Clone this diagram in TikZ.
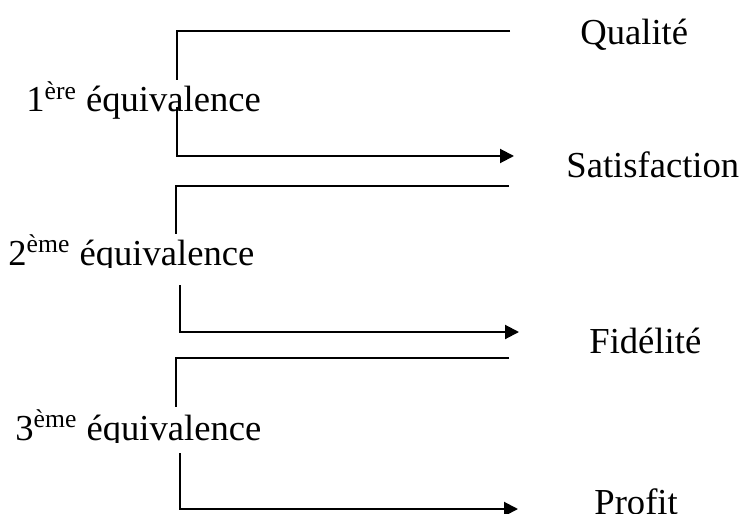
\documentclass[tikz,border=0pt]{standalone}
\usepackage{fontspec}
\setmainfont{Liberation Serif}
\usetikzlibrary{arrows.meta}
\begin{document}
\begin{tikzpicture}[x=0.5pt,y=-0.5pt,
  link/.style={line width=1pt},
  flow/.style={link,-{Triangle[length=7pt,width=7pt]}},
  txt/.style={anchor=base west,inner sep=0pt,font=\fontsize{18.3pt}{22pt}\selectfont},
]
\useasboundingbox (0,0) rectangle (742,513);
\clip (0,0) rectangle (742,513);

% stage labels on the right
\node[txt] (q) at (580,45)  {Qualité};
\node[txt] (s) at (566,177) {Satisfaction};
\node[txt] (f) at (589,353) {Fidélité};
\node[txt] (p) at (594,514) {Profit};

% equivalence labels on the left (the lower two are cut just under the baseline)
\node[txt] (l1) at (26,112) {1\textsuperscript{ère} équivalence};
\begin{scope}
  \clip (0,0) rectangle (742,267);
  \node[txt] (l2) at (8,265) {2\textsuperscript{ème} équivalence};
\end{scope}
\begin{scope}
  \clip (0,0) rectangle (742,442);
  \node[txt] (l3) at (15,440) {3\textsuperscript{ème} équivalence};
\end{scope}

% bracket 1 : Qualité -> Satisfaction
\coordinate (t1)  at (510,31);
\coordinate (c1)  at (177,31);
\coordinate (g1a) at (177,80);
\coordinate (g1b) at (177,107);
\coordinate (d1)  at (177,156);
\coordinate (a1)  at (514,156);
\draw[link] (t1) -- (c1) -- (g1a);
\draw[flow] (g1b) -- (d1) -- (a1);

% bracket 2 : Satisfaction -> Fidélité
\coordinate (t2)  at (509,186);
\coordinate (c2)  at (176,186);
\coordinate (g2a) at (176,234);
\coordinate (g2b) at (180,285);
\coordinate (d2)  at (180,332);
\coordinate (a2)  at (519,332);
\draw[link] (t2) -- (c2) -- (g2a);
\draw[flow] (g2b) -- (d2) -- (a2);

% bracket 3 : Fidélité -> Profit
\coordinate (t3)  at (509,358);
\coordinate (c3)  at (176,358);
\coordinate (g3a) at (176,407);
\coordinate (g3b) at (180,453);
\coordinate (d3)  at (180,509);
\coordinate (a3)  at (518,509);
\draw[link] (t3) -- (c3) -- (g3a);
\draw[flow] (g3b) -- (d3) -- (a3);
\end{tikzpicture}
\end{document}
